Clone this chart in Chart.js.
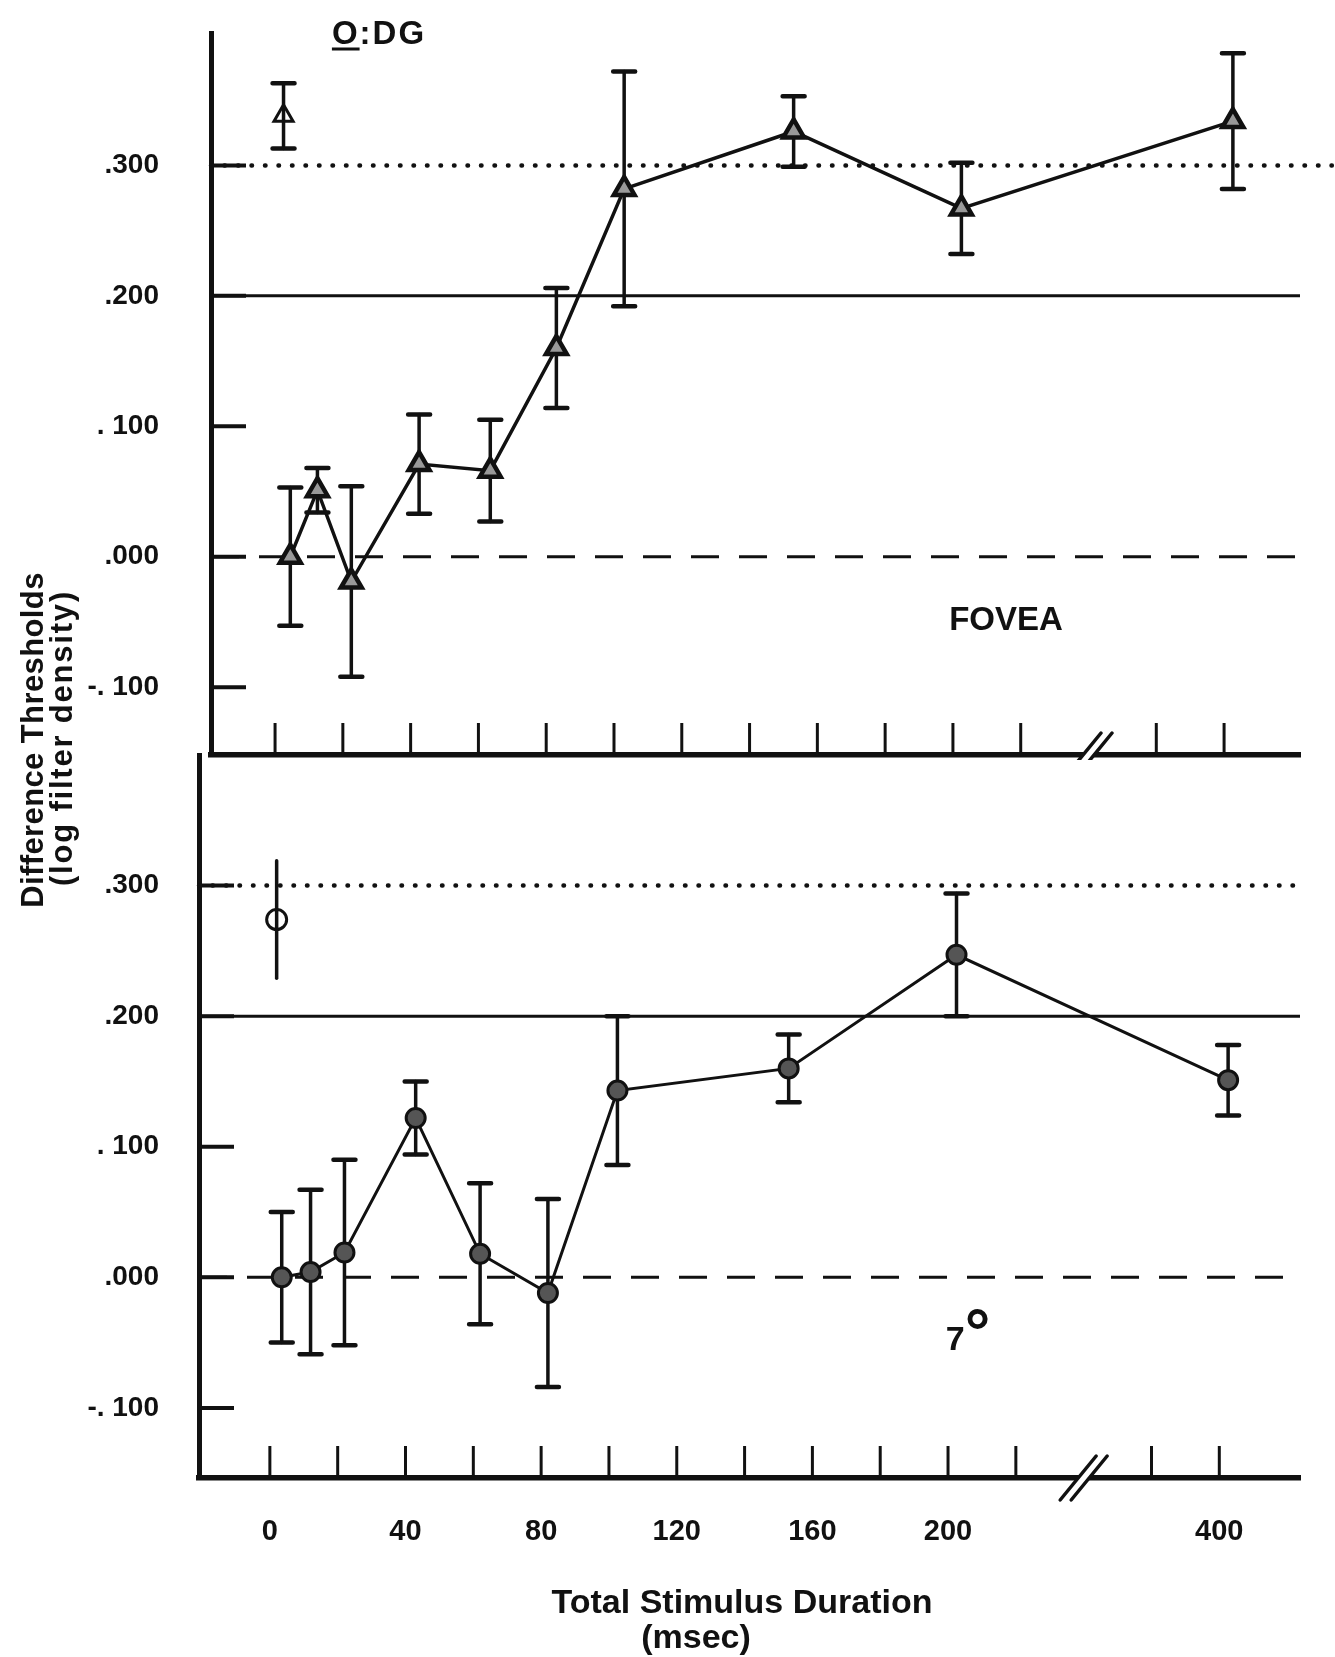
<!DOCTYPE html>
<html>
<head>
<meta charset="utf-8">
<title>Difference thresholds vs. total stimulus duration</title>
<script src="https://cdn.jsdelivr.net/npm/chart.js@4.4.1/dist/chart.umd.min.js"></script>
<style>
  html, body { margin: 0; padding: 0; background: #fff; }
  #page {
    position: relative; width: 1335px; height: 1657px; overflow: hidden;
    font-family: 'Liberation Sans', Arial, Helvetica, sans-serif; font-weight: bold; color: #111;
  }
  canvas { position: absolute; left: 0; }
  #fovea { top: 0; }
  #periphery { top: 740px; }
  .note { position: absolute; white-space: nowrap; line-height: 1; transform: translate(-50%, -50%); }
  .ytitle {
    position: absolute; white-space: nowrap; line-height: 1; font-size: 31px;
    transform: translate(-50%, -50%) rotate(-90deg);
  }
</style>
</head>
<body>
<div id="page">
  <canvas id="fovea" width="1335" height="760"></canvas>
  <canvas id="periphery" width="1335" height="917"></canvas>

  <div class="note" style="left:379px; top:32px; font-size:33px; letter-spacing:2px;"><u style="text-underline-offset:4px; text-decoration-thickness:3px;">O</u>:DG</div>
  <div class="note" style="left:1006px; top:618px; font-size:33px;">FOVEA</div>
  <div class="note" style="left:968px; top:1338px; font-size:34px;">7<span style="font-size:64px; line-height:0; position:relative; top:4px;">°</span></div>

  <div class="ytitle" style="left:32px; top:740px; letter-spacing:0.4px;">Difference Thresholds</div>
  <div class="ytitle" style="left:61px; top:738px; letter-spacing:1.8px;">(log filter density)</div>

  <div class="note" style="left:742px; top:1601px; font-size:34px;">Total Stimulus Duration</div>
  <div class="note" style="left:696px; top:1636px; font-size:34px;">(msec)</div>
</div>

<script>
// Difference thresholds (log filter density) against total stimulus duration (msec)

const INK = '#111';

// Fovea: connected series, mean threshold and +/- error
const fovealMs     = [4.5, 12.5, 22.5, 42.5, 63.5, 83, 103, 153, 202.5, 413];
const fovealThresh = [0.000, 0.051, -0.019, 0.071, 0.066, 0.160, 0.282, 0.326, 0.267, 0.334];
const fovealErr    = [0.053, 0.017, 0.073, 0.038, 0.039, 0.046, 0.090, 0.027, 0.035, 0.052];

// Fovea: single open triangle
const fovealSingleMs     = [2.5];
const fovealSingleThresh = [0.338];
const fovealSingleErr    = [0.025];

// 7 deg periphery: connected series
const periphMs     = [3.5, 12, 22, 43, 62, 82, 102.5, 153, 202.5, 413];
const periphThresh = [0.000, 0.004, 0.019, 0.122, 0.018, -0.012, 0.143, 0.160, 0.247, 0.151];
const periphErr    = [0.050, 0.063, 0.071, 0.028, 0.054, 0.072, 0.057, 0.026, 0.047, 0.027];

// 7 deg periphery: single open circle
const periphSingleMs     = [2];
const periphSingleThresh = [0.274];
const periphSingleErr    = [0.045];

// Horizontal reference levels (dotted, solid, dashed)
const refLevels = [0.3, 0.2, 0.0];

// Axis ticks
const xTickMs     = [0, 20, 40, 60, 80, 100, 120, 140, 160, 180, 200, 220, 300, 400];
const xLabelMs    = [0, 40, 80, 120, 160, 200, 400];
const yTickValues = [-0.1, 0, 0.1, 0.2, 0.3];
const yTickLabels = ['-. 100', '.000', '. 100', '.200', '.300'];

// Broken time axis: linear up to the break, compressed beyond it
const BREAK_MS = 240;
function axisPos(ms) {
    return ms <= BREAK_MS ? ms : BREAK_MS + (ms - 200) * 0.2;
}

const toPoints = (ms, vals) => ms.map((m, i) => ({ x: axisPos(m), y: vals[i] }));
const near = (a, b) => Math.abs(a - b) < 1e-6;

Chart.defaults.font.family = "'Liberation Sans', Arial, Helvetica, sans-serif";
Chart.defaults.font.weight = 'bold';
Chart.defaults.color = INK;

/**
 * Vertical error bars with flat caps, drawn under the markers
 */
const errorBarPlugin = {
    id: 'errorBars',
    beforeDatasetsDraw(chart) {
        const { ctx } = chart;
        const xs = chart.scales.x, ys = chart.scales.y;
        chart.data.datasets.forEach(ds => {
            if (!ds.errorBars) return;
            ctx.save();
            ctx.strokeStyle = INK;
            ctx.lineCap = 'round';
            ds.data.forEach((pt, j) => {
                const e = ds.errorBars[j];
                const px = xs.getPixelForValue(pt.x);
                const top = ys.getPixelForValue(pt.y + e);
                const bot = ys.getPixelForValue(pt.y - e);
                ctx.lineWidth = ds.errorBarWidth;
                ctx.beginPath();
                ctx.moveTo(px, top);
                ctx.lineTo(px, bot);
                ctx.stroke();
                if (ds.errorCapWidth) {
                    const hw = ds.errorCapWidth / 2;
                    ctx.lineWidth = ds.errorCapThickness;
                    ctx.beginPath();
                    ctx.moveTo(px - hw, top); ctx.lineTo(px + hw, top);
                    ctx.moveTo(px - hw, bot); ctx.lineTo(px + hw, bot);
                    ctx.stroke();
                }
            });
            ctx.restore();
        });
    }
};

/**
 * Tick marks pointing into the plot, plus the // break on the time axis
 */
const axisMarksPlugin = {
    id: 'axisMarks',
    afterDraw(chart) {
        const { ctx, chartArea } = chart;
        const xs = chart.scales.x, ys = chart.scales.y;
        const line = (x1, y1, x2, y2) => {
            ctx.beginPath(); ctx.moveTo(x1, y1); ctx.lineTo(x2, y2); ctx.stroke();
        };
        ctx.save();
        ctx.strokeStyle = INK;

        ctx.lineWidth = 3;
        xs.ticks.forEach(t => {
            const px = xs.getPixelForValue(t.value);
            line(px, chartArea.bottom, px, chartArea.bottom - 32);
        });

        ctx.lineWidth = 4;
        ys.ticks.forEach(t => {
            const py = ys.getPixelForValue(t.value);
            line(chartArea.left, py, chartArea.left + 35, py);
        });

        const bx = xs.getPixelForValue(axisPos(BREAK_MS));
        const by = chartArea.bottom;
        ctx.lineCap = 'round';
        ctx.strokeStyle = '#fff';
        ctx.lineWidth = 8;
        line(bx - 16, by + 19, bx + 16, by - 19);
        ctx.strokeStyle = INK;
        ctx.lineWidth = 3.5;
        [-5.5, 5.5].forEach(off => line(bx + off - 18, by + 22, bx + off + 18, by - 22));
        ctx.restore();
    }
};

/**
 * Build one panel (fovea or periphery)
 */
function makePanel(canvasId, p) {
    const ctx = document.getElementById(canvasId).getContext('2d');

    const refStyles = [
        { dash: [0.5, 13], width: 4.5, cap: 'round' },
        { dash: [], width: 3, cap: 'butt' },
        { dash: [28, 20], width: 3, cap: 'butt' }
    ];
    const refSets = refLevels.map((level, i) => ({
        data: [{ x: p.xMin, y: level }, { x: p.refEnds[i], y: level }],
        borderColor: INK,
        borderWidth: refStyles[i].width,
        borderDash: refStyles[i].dash,
        borderCapStyle: refStyles[i].cap,
        pointRadius: 0,
        clip: false,
        order: 3
    }));

    const series = {
        data: toPoints(p.ms, p.thresh),
        borderColor: INK,
        borderWidth: p.lineWidth,
        tension: 0,
        pointStyle: p.marker,
        pointRadius: p.markerRadius,
        pointBorderWidth: p.markerBorder,
        pointBorderColor: INK,
        pointBackgroundColor: p.markerFill,
        errorBars: p.err,
        errorBarWidth: 3.5,
        errorCapWidth: 22,
        errorCapThickness: 4.5,
        clip: false,
        order: 1
    };

    const single = {
        data: toPoints(p.singleMs, p.singleThresh),
        showLine: false,
        pointStyle: p.marker,
        pointRadius: p.singleRadius,
        pointBorderWidth: 3,
        pointBorderColor: INK,
        pointBackgroundColor: 'rgba(255,255,255,0)',
        errorBars: p.singleErr,
        errorBarWidth: 3.5,
        errorCapWidth: p.singleCaps ? 22 : 0,
        errorCapThickness: 4.5,
        clip: false,
        order: 1
    };

    return new Chart(ctx, {
        type: 'line',
        data: { datasets: [...refSets, series, single] },
        plugins: [errorBarPlugin, axisMarksPlugin],
        options: {
            responsive: false,
            animation: false,
            events: [],
            layout: {
                autoPadding: false,
                padding: { top: p.padTop, right: 1335 - p.right, left: 0, bottom: 0 }
            },
            plugins: { legend: { display: false }, tooltip: { enabled: false } },
            scales: {
                x: {
                    type: 'linear',
                    min: p.xMin,
                    max: p.xMax,
                    afterBuildTicks: s => { s.ticks = xTickMs.map(m => ({ value: axisPos(m) })); },
                    afterFit: s => {
                        s.height = p.xAxisHeight;
                        s.paddingLeft = 0;
                        s.paddingRight = 0;
                    },
                    grid: { display: false, drawTicks: false },
                    border: { display: true, width: 5.5, color: INK },
                    ticks: {
                        display: p.showXLabels,
                        autoSkip: false,
                        maxRotation: 0,
                        padding: 37,
                        font: { size: 29, weight: 'bold' },
                        color: INK,
                        callback: value => {
                            const m = xLabelMs.find(ms => near(axisPos(ms), value));
                            return m === undefined ? '' : String(m);
                        }
                    }
                },
                y: {
                    type: 'linear',
                    min: p.yMin,
                    max: p.yMax,
                    afterBuildTicks: s => { s.ticks = yTickValues.map(v => ({ value: v })); },
                    afterFit: s => {
                        s.width = p.left;
                        s.paddingTop = 0;
                        s.paddingBottom = 0;
                    },
                    grid: { display: false, drawTicks: false },
                    border: { display: true, width: 5, color: INK },
                    ticks: {
                        padding: p.left - 159,
                        font: { size: 28, weight: 'bold' },
                        color: INK,
                        callback: value => yTickLabels[yTickValues.findIndex(v => near(v, value))]
                    }
                }
            }
        }
    });
}

// Upper panel: fovea
makePanel('fovea', {
    ms: fovealMs, thresh: fovealThresh, err: fovealErr,
    singleMs: fovealSingleMs, singleThresh: fovealSingleThresh, singleErr: fovealSingleErr,
    singleCaps: true,
    marker: 'triangle', markerRadius: 12, markerBorder: 4.5, markerFill: '#999', singleRadius: 11,
    lineWidth: 3.5,
    left: 211, right: 1300, padTop: 33, xAxisHeight: 5,
    xMin: -18.9, xMax: 302.4, yMin: -0.152, yMax: 0.4015,
    refEnds: [311.8, 302.4, 302.4],
    showXLabels: false
});

// Lower panel: 7 deg periphery
makePanel('periphery', {
    ms: periphMs, thresh: periphThresh, err: periphErr,
    singleMs: periphSingleMs, singleThresh: periphSingleThresh, singleErr: periphSingleErr,
    singleCaps: false,
    marker: 'circle', markerRadius: 9.5, markerBorder: 3, markerFill: '#555', singleRadius: 10,
    lineWidth: 3,
    left: 199, right: 1300, padTop: 15, xAxisHeight: 179,
    xMin: -20.9, xMax: 303.8, yMin: -0.1537, yMax: 0.4,
    refEnds: [302.4, 303.8, 303.8],
    showXLabels: true
});
</script>
</body>
</html>
